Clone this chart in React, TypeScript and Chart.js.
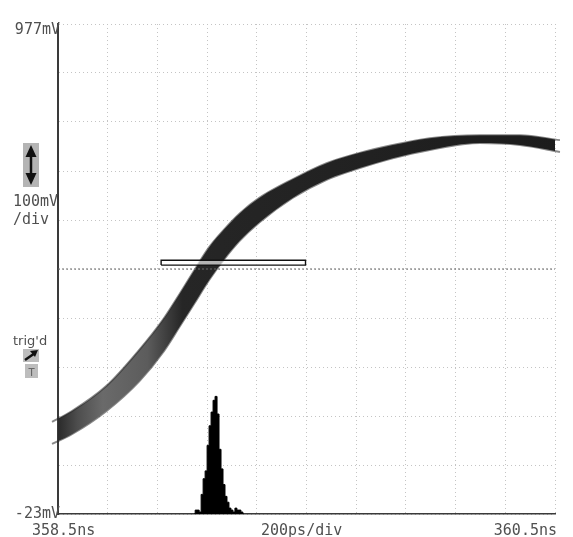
import { useEffect, useRef } from 'react';
import { Chart, registerables } from 'chart.js';

Chart.register(...registerables);

// Axis ranges (time in ns, level in mV)
const xMinNs = 358.5;
const xMaxNs = 360.5;
const yMinMv = -23;
const yMaxMv = 977;
const xGridNs = [358.5, 358.7, 358.9, 359.1, 359.3, 359.5, 359.7, 359.9, 360.1, 360.3, 360.5];
const yGridMv = [-23, 77, 177, 277, 377, 477, 577, 677, 777, 877, 977];

// Waveform persistence band: time, upper and lower envelope (mV)
const bandTimeNs = [358.476, 358.556, 358.694, 358.827, 358.927, 358.988, 359.048, 359.109, 359.169, 359.23, 359.31, 359.444, 359.581, 359.714, 359.847, 359.996, 360.198, 360.359, 360.52];
const bandUpperMv = [165, 187, 238, 312, 377, 425, 474, 522, 558, 590, 622, 660, 693, 714, 730, 744, 750, 750, 740];
const bandLowerMv = [120, 140, 187, 248, 310, 358, 406, 455, 497, 534, 572, 622, 659, 683, 703, 720, 734, 730, 716];

// Jitter histogram: bin time (ns) and hits
const histTimeNs = [359.048, 359.056, 359.064, 359.072, 359.08, 359.088, 359.096, 359.104, 359.112, 359.12, 359.128, 359.136, 359.144, 359.152, 359.16, 359.168, 359.176, 359.184, 359.192, 359.2, 359.208, 359.216, 359.224, 359.232, 359.24, 359.248];
const histHits = [0, 2, 2, 1, 10, 18, 22, 35, 45, 52, 58, 60, 51, 33, 23, 15, 9, 6, 3, 2, 1, 3, 2, 2, 1, 0];

// Trigger level and trigger window box
const triggerLevelMv = 477;
const triggerBoxTimeNs = [358.915, 359.496];
const triggerBoxMv = [485, 495];

// Labels
const topLevelLabel = '977mV';
const bottomLevelLabel = '-23mV';
const scaleLabel = ['100mV', '/div'];
const trigLabel = "trig'd";
const timeLabels = ['358.5ns', '200ps/div', '360.5ns'];

const labelPlugin = {
  id: 'scopeLabels',
  afterDraw(chart: any) {
    const ctx = chart.ctx as CanvasRenderingContext2D;
    ctx.save();
    ctx.fillStyle = '#505050';
    ctx.font = "15px 'DejaVu Sans Mono'";
    ctx.textBaseline = 'alphabetic';
    ctx.textAlign = 'right';
    ctx.fillText(topLevelLabel, 60, 34);
    ctx.fillText(bottomLevelLabel, 60, 518);
    ctx.textAlign = 'left';
    ctx.fillText(scaleLabel[0], 13, 206);
    ctx.fillText(scaleLabel[1], 13, 224);
    ctx.fillText(timeLabels[0], 32, 535);
    ctx.fillText(timeLabels[1], 261, 535);
    ctx.textAlign = 'right';
    ctx.fillText(timeLabels[2], 557, 535);
    ctx.textAlign = 'left';
    ctx.font = "13px 'DejaVu Sans'";
    ctx.fillText(trigLabel, 13, 345);

    // vertical scale icon
    ctx.fillStyle = '#b4b4b4';
    ctx.fillRect(23, 143, 16, 44);
    ctx.strokeStyle = '#111';
    ctx.fillStyle = '#111';
    ctx.lineWidth = 2.5;
    ctx.beginPath();
    ctx.moveTo(31, 150);
    ctx.lineTo(31, 180);
    ctx.stroke();
    ctx.beginPath();
    ctx.moveTo(31, 145); ctx.lineTo(25.5, 157); ctx.lineTo(36.5, 157); ctx.closePath();
    ctx.fill();
    ctx.beginPath();
    ctx.moveTo(31, 185); ctx.lineTo(25.5, 173); ctx.lineTo(36.5, 173); ctx.closePath();
    ctx.fill();

    // trigger icons
    ctx.fillStyle = '#bdbdbd';
    ctx.fillRect(23, 349, 16, 13);
    ctx.fillRect(25, 364, 13, 14);
    ctx.strokeStyle = '#111';
    ctx.lineWidth = 2.5;
    ctx.beginPath();
    ctx.moveTo(25, 360); ctx.lineTo(35, 353);
    ctx.stroke();
    ctx.fillStyle = '#111';
    ctx.beginPath();
    ctx.moveTo(38, 350); ctx.lineTo(30, 351); ctx.lineTo(35, 357); ctx.closePath();
    ctx.fill();
    ctx.fillStyle = '#666';
    ctx.font = "11px 'DejaVu Sans Mono'";
    ctx.textAlign = 'center';
    ctx.fillText('T', 31.5, 376);
    ctx.restore();
  },
};

function bandFill(context: any) {
  const chart = context.chart;
  const area = chart.chartArea;
  if (!area) return '#222';
  const g = chart.ctx.createLinearGradient(area.left, 0, area.right, 0);
  g.addColorStop(0, '#2a2a2a');
  g.addColorStop(0.04, '#4e4e4e');
  g.addColorStop(0.09, '#6a6a6a');
  g.addColorStop(0.18, '#5c5c5c');
  g.addColorStop(0.25, '#262626');
  g.addColorStop(1, '#1c1c1c');
  return g;
}

export default function App() {
  const canvasRef = useRef<HTMLCanvasElement | null>(null);

  useEffect(() => {
    const canvas = canvasRef.current;
    if (!canvas) return;

    const pts = (xs: number[], ys: number[]) => xs.map((x, i) => ({ x, y: ys[i] }));

    const chart = new Chart(canvas, {
      type: 'line',
      data: {
        datasets: [
          {
            label: 'trigger window',
            data: [
              { x: triggerBoxTimeNs[0], y: triggerBoxMv[0] },
              { x: triggerBoxTimeNs[1], y: triggerBoxMv[0] },
              { x: triggerBoxTimeNs[1], y: triggerBoxMv[1] },
              { x: triggerBoxTimeNs[0], y: triggerBoxMv[1] },
              { x: triggerBoxTimeNs[0], y: triggerBoxMv[0] },
            ],
            borderColor: '#111',
            borderWidth: 1.4,
            backgroundColor: 'rgba(255,255,255,0.65)',
            fill: 'shape',
            pointRadius: 0,
            tension: 0,
          },
          {
            label: 'trigger level',
            data: [
              { x: xMinNs, y: triggerLevelMv },
              { x: xMaxNs, y: triggerLevelMv },
            ],
            borderColor: '#6a6a6a',
            borderWidth: 1,
            borderDash: [2, 2],
            pointRadius: 0,
            fill: false,
          },
          {
            label: 'histogram',
            data: pts(histTimeNs, histHits),
            yAxisID: 'yh',
            stepped: 'middle',
            borderColor: '#000',
            borderWidth: 1,
            backgroundColor: '#000',
            fill: 'origin',
            pointRadius: 0,
          },
          {
            label: 'upper',
            data: pts(bandTimeNs, bandUpperMv),
            borderColor: 'rgba(40,40,40,0.55)',
            borderWidth: 2,
            backgroundColor: bandFill,
            fill: '+1',
            pointRadius: 0,
            cubicInterpolationMode: 'monotone',
            clip: 8,
          },
          {
            label: 'lower',
            data: pts(bandTimeNs, bandLowerMv),
            borderColor: 'rgba(40,40,40,0.55)',
            borderWidth: 2,
            fill: false,
            pointRadius: 0,
            cubicInterpolationMode: 'monotone',
            clip: 8,
          },
        ],
      } as any,
      options: {
        animation: false,
        responsive: false,
        maintainAspectRatio: false,
        layout: { padding: { left: 58, top: 24, right: 18, bottom: 23 } },
        plugins: {
          legend: { display: false },
          tooltip: { enabled: false },
          filler: { propagate: false },
        },
        scales: {
          x: {
            type: 'linear',
            min: xMinNs,
            max: xMaxNs,
            afterBuildTicks: (scale: any) => {
              scale.ticks = xGridNs.map((v) => ({ value: v }));
            },
            ticks: { display: false },
            grid: { color: '#c4c4c4', lineWidth: 1, drawTicks: false },
            border: { display: true, color: '#3a3a3a', width: 1.5, dash: [1, 3] },
          },
          y: {
            type: 'linear',
            min: yMinMv,
            max: yMaxMv,
            afterBuildTicks: (scale: any) => {
              scale.ticks = yGridMv.map((v) => ({ value: v }));
            },
            ticks: { display: false },
            grid: { color: '#c4c4c4', lineWidth: 1, drawTicks: false },
            border: { display: true, color: '#3a3a3a', width: 2, dash: [1, 3] },
          },
          yh: {
            type: 'linear',
            min: 0,
            max: 250,
            display: false,
          },
        },
      } as any,
      plugins: [labelPlugin],
    });

    return () => chart.destroy();
  }, []);

  return (
    <div style={{ position: 'absolute', left: 0, top: 0, width: 573, height: 537, background: '#fff' }}>
      <canvas ref={canvasRef} width={573} height={537} style={{ width: 573, height: 537 }} />
    </div>
  );
}
